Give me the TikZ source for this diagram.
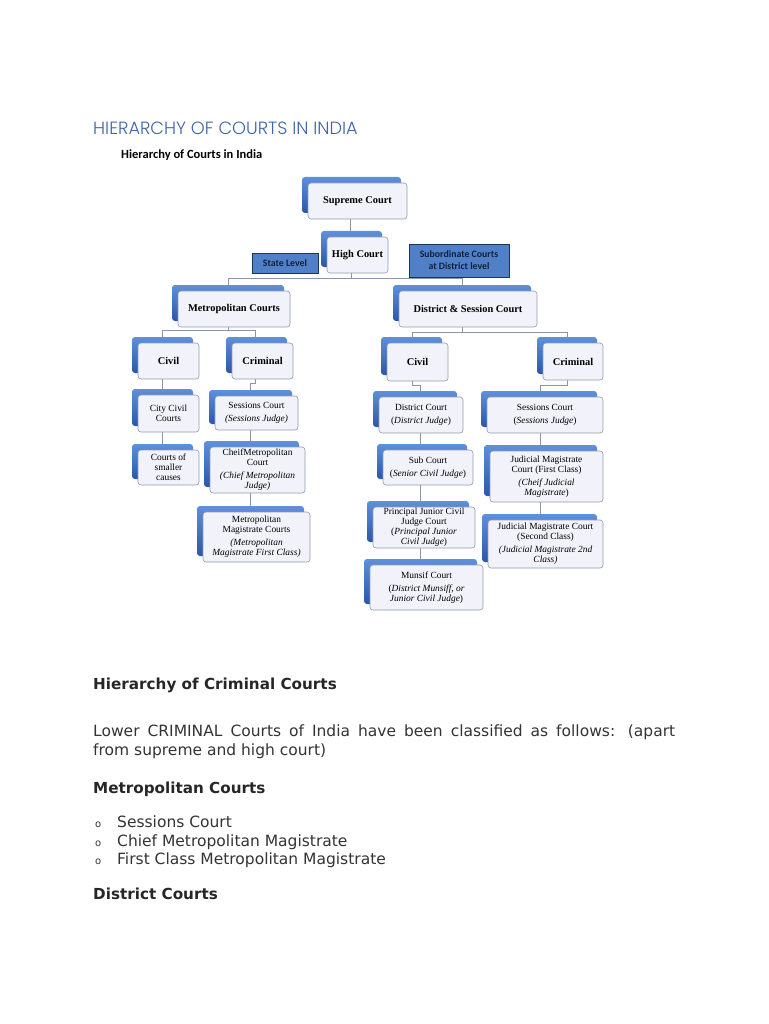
\documentclass[tikz,border=0pt]{standalone}
\usepackage{fontspec}
\setmainfont{Liberation Serif}
\newfontfamily\bodyfont{DejaVu Sans}
\newfontfamily\labelfont{Carlito}
\IfFontExistsTF{Poppins Light}{\newfontfamily\titlefont{Poppins Light}}{\newfontfamily\titlefont{Poppins}}
\usetikzlibrary{backgrounds}

\definecolor{titleblue}{HTML}{3E64A9}
\definecolor{tabdark}{HTML}{2A57A8}
\definecolor{tablight}{HTML}{5F90DA}
\definecolor{boxline}{HTML}{8D9AAE}
\definecolor{boxfill}{HTML}{F2F3FA}
\definecolor{linkgray}{HTML}{8896AA}
\definecolor{levelfill}{HTML}{4F80C8}
\definecolor{leveldraw}{HTML}{1D3455}
\definecolor{leveltext}{HTML}{13203A}
\definecolor{bodytext}{HTML}{333333}

\tikzset{
	court/.style 2 args={draw=boxline, line width=0.6pt, fill=boxfill, rounded corners=3pt,
		minimum width=#1pt, minimum height=#2pt, inner sep=1pt, align=center,
		font=\fontsize{9.4}{10}\selectfont,
		preaction={draw=none, top color=tablight, bottom color=tabdark,
			transform canvas={shift={(-6pt,6pt)}}}},
	head/.style={font=\fontsize{10.4}{11}\selectfont\bfseries},
	level/.style 2 args={draw=leveldraw, line width=0.8pt, fill=levelfill, text=leveltext,
		minimum width=#1pt, minimum height=#2pt, inner sep=1pt, align=center,
		font=\labelfont\bfseries\fontsize{9.8}{12}\selectfont},
	link/.style={draw=linkgray, line width=0.6pt},
	bodyline/.style={anchor=base west, inner sep=0pt, text=bodytext, font=\bodyfont\fontsize{15.5}{19}\selectfont},
	bodyhead/.style={anchor=base west, inner sep=0pt, text=black!85, font=\bodyfont\bfseries\fontsize{15.2}{18}\selectfont}
}

\begin{document}
\begin{tikzpicture}[x=1pt,y=1pt]
	\useasboundingbox (0,0) rectangle (768,-1024);
	
	% titles
	\node[anchor=base west, inner sep=0pt, text=titleblue, font=\titlefont\fontsize{17.7}{20}\selectfont] (pagetitle) at (93,-135) {HIERARCHY OF COURTS IN INDIA};
	\node[anchor=base west, inner sep=0pt, font=\labelfont\bfseries\fontsize{12.5}{14}\selectfont] (charttitle) at (121,-159) {Hierarchy of Courts in India};
	
	% top levels
	\node[court={99}{36}, head] (supreme) at (357.5,-201) {Supreme Court};
	\node[court={61}{36}, head] (high) at (357.5,-255) {High Court};
	\node[level={66}{20}] (state) at (285,-263) {State Level};
	\node[level={100}{33}] (subord) at (459,-260.5) {Subordinate Courts\\at District level};
	\node[court={112}{36}, head] (metro) at (234,-309) {Metropolitan Courts};
	\node[court={138}{36}, head] (dist) at (468,-309) {District \& Session Court};
	
	% metropolitan side
	\node[court={61}{36}, head] (mcivil) at (168.5,-361) {Civil};
	\node[court={61}{36}, head] (mcrim) at (262.5,-361) {Criminal};
	\node[court={61}{37}] (citycivil) at (168.5,-413.5) {City Civil\\Courts};
	\node[court={61}{35}] (smaller) at (168.5,-467.5) {Courts of\\smaller\\causes};
	\node[court={83}{34}] (msessions) at (256.5,-413) {Sessions Court\\[3pt]\textit{(Sessions Judge)}};
	\node[court={95}{46}] (chiefmetro) at (257.5,-470) {CheifMetropolitan\\Court\\[3pt]\textit{(Chief Metropolitan}\\\textit{Judge)}};
	\node[court={107}{50}] (metromag) at (256.5,-537) {Metropolitan\\Magistrate Courts\\[3pt]\textit{(Metropolitan}\\\textit{Magistrate First Class)}};
	
	% district side
	\node[court={61}{38}, head] (dcivil) at (417.5,-362) {Civil};
	\node[court={60}{37}, head] (dcrim) at (573,-361.5) {Criminal};
	\node[court={84}{36}] (distcourt) at (421,-415) {District Court\\[3pt](\textit{District Judge})};
	\node[court={90}{35}] (subcourt) at (428,-467.5) {Sub Court\\[3pt](\textit{Senior Civil Judge})};
	\node[court={102}{41}] (pjcj) at (424,-527.5) {Principal Junior Civil\\Judge Court\\(\textit{Principal Junior}\\\textit{Civil Judge})};
	\node[court={113}{45}] (munsif) at (426.5,-587.5) {Munsif Court\\[3pt](\textit{District Munsiff, or}\\\textit{Junior Civil Judge})};
	\node[court={116}{36}] (dsessions) at (545,-415) {Sessions Court\\[3pt](\textit{Sessions Judge})};
	\node[court={113}{51}] (jmfc) at (546.5,-476.5) {Judicial Magistrate\\Court (First Class)\\[3pt]\textit{(Cheif Judicial}\\\textit{Magistrate})};
	\node[court={115}{48}] (jmsc) at (545.5,-544) {Judicial Magistrate Court\\(Second Class)\\[3pt]\textit{(Judicial Magistrate 2nd}\\\textit{Class)}};
	
	\begin{pgfonlayer}{background}
		\draw[link] ([xshift=-7pt]supreme.south) -- ([xshift=-7pt]high.north);
		\draw[link] ([xshift=-6.5pt]high.south) -- ++(0,-5) coordinate (hsplit);
		\draw[link] ([xshift=-6pt]metro.north) |- (hsplit) -| ([xshift=-6pt]dist.north);
		\draw[link] ([xshift=-6pt]metro.south) -- ++(0,-3) coordinate (msplit);
		\draw[link] ([xshift=-6.5pt]mcivil.north) |- (msplit) -| ([xshift=-7.5pt]mcrim.north);
		\draw[link] ([xshift=-6pt]dist.south) -- ++(0,-5) coordinate (dsplit);
		\draw[link] ([xshift=-5.5pt]dcivil.north) |- (dsplit) -| ([xshift=-6pt]dcrim.north);
		% civil chains
		\draw[link] ([xshift=-6.5pt]mcivil.south) -- ([xshift=-6.5pt]citycivil.north);
		\draw[link] ([xshift=-6.5pt]citycivil.south) -- ([xshift=-6.5pt]smaller.north);
		\draw[link] ([xshift=-5.5pt]dcivil.south) -- ++(0,-4) -| ([xshift=-1pt]distcourt.north);
		\draw[link] ([xshift=-1pt]distcourt.south) -- ([xshift=-8pt]subcourt.north);
		\draw[link] ([xshift=-8pt]subcourt.south) -- ([xshift=-4pt]pjcj.north);
		\draw[link] ([xshift=-4pt]pjcj.south) -- ([xshift=-6.5pt]munsif.north);
		% criminal chains
		\draw[link] ([xshift=-7.5pt]mcrim.south) -- ++(0,-4) -| ([xshift=-6.5pt]msessions.north);
		\draw[link] ([xshift=-6.5pt]msessions.south) -- ([xshift=-7.5pt]chiefmetro.north);
		\draw[link] ([xshift=-7.5pt]chiefmetro.south) -- ([xshift=-6.5pt]metromag.north);
		\draw[link] ([xshift=-6pt]dcrim.south) -- ++(0,-5) -| ([xshift=-5pt]dsessions.north);
		\draw[link] ([xshift=-5pt]dsessions.south) -- ([xshift=-6.5pt]jmfc.north);
		\draw[link] ([xshift=-6.5pt]jmfc.south) -- ([xshift=-5.5pt]jmsc.north);
	\end{pgfonlayer}
	
	% text below the chart
	\node[bodyhead] (crimhead) at (93,-689.5) {Hierarchy of Criminal Courts};
	\node[bodyline] (intro1) at (93,-736.5) {\makebox[582pt][s]{Lower CRIMINAL Courts of India have been classified as follows: (apart}};
	\node[bodyline] (intro2) at (93,-755.5) {from supreme and high court)};
	\node[bodyhead] (metrohead) at (93,-793.5) {Metropolitan Courts};
	\foreach \txt/\yy [count=\i] in {Sessions Court/827.5, Chief Metropolitan Magistrate/846.5, First Class Metropolitan Magistrate/864.5}{
		\node[bodyline, font=\bodyfont\fontsize{10}{10}\selectfont] (dot\i) at (95,-\yy) {o};
		\node[bodyline] (item\i) at (117,-\yy) {\txt};
	}
	\node[bodyhead] (disthead) at (93,-899.5) {District Courts};
\end{tikzpicture}
\end{document}
